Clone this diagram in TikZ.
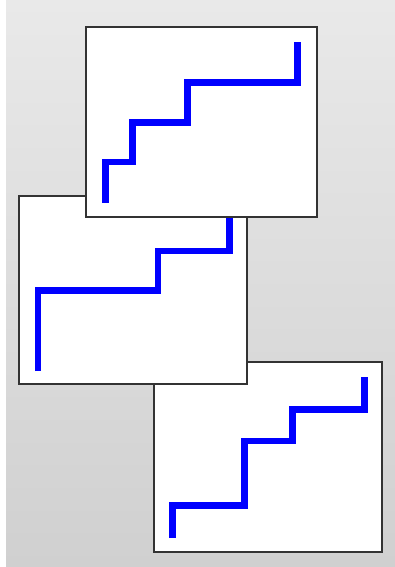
\documentclass[tikz,border=0pt]{standalone}
\begin{document}
\begin{tikzpicture}[x=1pt,y=-1pt,
  panel/.style={fill=white,draw=black!80,line width=2pt},
  stair/.style={draw=blue,line width=6.5pt,line cap=butt,line join=miter}]
\definecolor{bgtop}{HTML}{E9E9E9}
\definecolor{bgbot}{HTML}{D0D0D0}
\useasboundingbox (0,0) rectangle (395,567);
\shade[top color=bgtop,bottom color=bgbot] (6,0) rectangle (395,567);
% bottom panel C
\draw[panel] (154.3,362.3) rectangle (382.3,551.7);
\draw[stair] (172.7,537.7) |- (244.5,505.7) |- (292.3,441) |- (364.7,409.5) -- (364.7,376.7);
% middle panel B
\draw[panel] (19.3,195.7) rectangle (247.3,384);
\draw[stair] (38.2,371) |- (157.8,290.3) |- (229.7,250.8) -- (229.7,210);
% top panel A
\draw[panel] (86,27) rectangle (316.5,217);
\draw[stair] (105.3,202.7) |- (132.7,162) |- (187.5,122.5) |- (297.3,82.5) -- (297.3,41.7);
\end{tikzpicture}
\end{document}
